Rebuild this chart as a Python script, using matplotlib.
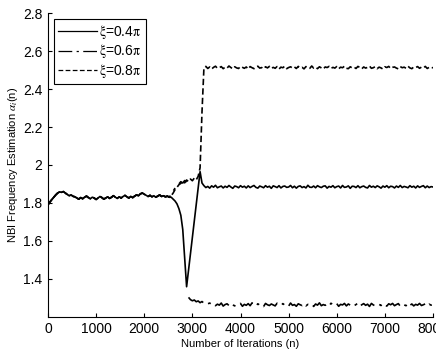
import numpy as np
import matplotlib
matplotlib.use("Agg")
import matplotlib.pyplot as plt

plt.rcParams['font.family'] = ['Liberation Sans', 'DejaVu Sans']
plt.rcParams['mathtext.fontset'] = 'stix'

# iterations are sampled every 40 steps
step = 40

# common start (n = 0 .. 2520), all three curves overlap here
shared = [1.790, 1.805, 1.818, 1.830, 1.842, 1.852, 1.858, 1.856, 1.860, 1.852,
          1.845, 1.838, 1.842, 1.835, 1.832, 1.826, 1.820, 1.828, 1.822, 1.830,
          1.836, 1.828, 1.822, 1.830, 1.826, 1.818, 1.826, 1.834, 1.828, 1.820,
          1.826, 1.832, 1.824, 1.830, 1.838, 1.830, 1.824, 1.832, 1.826, 1.834,
          1.840, 1.832, 1.826, 1.834, 1.828, 1.836, 1.842, 1.838, 1.848, 1.852,
          1.846, 1.840, 1.834, 1.840, 1.832, 1.838, 1.830, 1.836, 1.842, 1.834,
          1.838, 1.832, 1.836, 1.830]

# xi = 0.4 pi : dip then settle (n = 2560 .. 3200), plateau (3240 .. 8000)
dip_04 = [1.830, 1.820, 1.810, 1.795, 1.770, 1.735, 1.660, 1.510, 1.358,
          1.445, 1.533, 1.620, 1.708, 1.795, 1.882, 1.965, 1.905]
plateau_04 = [
    1.891, 1.881, 1.887, 1.878, 1.890, 1.883, 1.893, 1.880, 1.885, 1.889, 1.879, 1.888,
    1.882, 1.892, 1.884, 1.877, 1.889, 1.886, 1.880, 1.891, 1.883, 1.888, 1.879, 1.890,
    1.881, 1.887, 1.892, 1.882, 1.878, 1.889, 1.885, 1.880, 1.891, 1.883, 1.888, 1.877,
    1.890, 1.886, 1.881, 1.891, 1.879, 1.887, 1.889, 1.882, 1.884, 1.892, 1.880, 1.888,
    1.878, 1.887, 1.890, 1.881, 1.886, 1.879, 1.893, 1.883, 1.882, 1.889, 1.880, 1.891,
    1.885, 1.881, 1.888, 1.890, 1.878, 1.887, 1.883, 1.891, 1.880, 1.886, 1.889, 1.879,
    1.892, 1.882, 1.884, 1.890, 1.877, 1.888, 1.887, 1.881, 1.891, 1.880, 1.886, 1.889,
    1.882, 1.879, 1.892, 1.883, 1.888, 1.881, 1.890, 1.885, 1.878, 1.889, 1.883, 1.891,
    1.880, 1.888, 1.886, 1.879, 1.889, 1.882, 1.892, 1.881, 1.887, 1.884, 1.880, 1.891,
    1.883, 1.888, 1.879, 1.890, 1.882, 1.887, 1.891, 1.880, 1.889, 1.881, 1.886, 1.884]

# xi = 0.6 pi : rise (n = 2560 .. 2880), then jump down (2920 .. 8000)
rise_06 = [1.845, 1.862, 1.878, 1.892, 1.900, 1.912, 1.905, 1.918, 1.910]
plateau_06 = [
    1.302, 1.290, 1.284, 1.288, 1.279, 1.283, 1.274, 1.280, 1.271, 1.276, 1.268, 1.272,
    1.265, 1.270, 1.258, 1.266, 1.261, 1.272, 1.256, 1.264, 1.268, 1.259, 1.271, 1.262,
    1.257, 1.267, 1.263, 1.270, 1.255, 1.265, 1.260, 1.269, 1.258, 1.273, 1.262, 1.256,
    1.268, 1.261, 1.266, 1.254, 1.270, 1.263, 1.259, 1.267, 1.262, 1.257, 1.271, 1.264,
    1.258, 1.269, 1.261, 1.266, 1.256, 1.272, 1.260, 1.264, 1.255, 1.268, 1.263, 1.259,
    1.270, 1.257, 1.265, 1.262, 1.268, 1.254, 1.267, 1.261, 1.273, 1.258, 1.264, 1.260,
    1.266, 1.256, 1.271, 1.263, 1.259, 1.269, 1.255, 1.265, 1.262, 1.270, 1.257, 1.267,
    1.261, 1.268, 1.258, 1.264, 1.272, 1.256, 1.263, 1.269, 1.260, 1.266, 1.254, 1.270,
    1.262, 1.257, 1.267, 1.265, 1.259, 1.271, 1.261, 1.256, 1.268, 1.263, 1.270, 1.258,
    1.264, 1.269, 1.255, 1.266, 1.262, 1.258, 1.272, 1.260, 1.267, 1.257, 1.265, 1.261,
    1.270, 1.259, 1.263, 1.268, 1.256, 1.266, 1.261, 1.264]

# xi = 0.8 pi : rise (n = 2560 .. 3200), plateau (3240 .. 8000)
rise_08 = [1.838, 1.852, 1.870, 1.882, 1.896, 1.903, 1.914, 1.906, 1.921,
           1.912, 1.926, 1.917, 1.931, 1.922, 1.940, 1.985, 2.280]
plateau_08 = [
    2.512, 2.520, 2.509, 2.517, 2.506, 2.515, 2.521, 2.510, 2.513, 2.519, 2.508, 2.516,
    2.511, 2.522, 2.514, 2.507, 2.518, 2.512, 2.509, 2.520, 2.515, 2.510, 2.517, 2.506,
    2.519, 2.513, 2.508, 2.516, 2.521, 2.511, 2.514, 2.507, 2.518, 2.512, 2.520, 2.509,
    2.515, 2.510, 2.519, 2.506, 2.516, 2.513, 2.521, 2.508, 2.514, 2.518, 2.511, 2.517,
    2.509, 2.520, 2.512, 2.515, 2.507, 2.519, 2.513, 2.510, 2.522, 2.511, 2.516, 2.508,
    2.518, 2.512, 2.506, 2.517, 2.514, 2.520, 2.509, 2.515, 2.511, 2.519, 2.507, 2.516,
    2.513, 2.521, 2.510, 2.508, 2.518, 2.512, 2.516, 2.509, 2.520, 2.514, 2.507, 2.517,
    2.511, 2.515, 2.522, 2.510, 2.513, 2.519, 2.508, 2.516, 2.512, 2.506, 2.518, 2.514,
    2.520, 2.509, 2.515, 2.517, 2.511, 2.507, 2.519, 2.513, 2.516, 2.510, 2.521, 2.512,
    2.508, 2.517, 2.514, 2.519, 2.510, 2.516, 2.512, 2.520, 2.509, 2.515, 2.518, 2.511]

labels = [r'$\mathrm{\xi}$=0.4$\mathrm{\pi}$',
          r'$\mathrm{\xi}$=0.6$\mathrm{\pi}$',
          r'$\mathrm{\xi}$=0.8$\mathrm{\pi}$']


def build(*parts):
    # consecutive pieces; None marks a break in the drawn line
    ys, ns = [], []
    n = 0
    for p in parts:
        if p is None:
            ys.append(np.nan)
            ns.append(np.nan)
            continue
        for v in p:
            ys.append(v)
            ns.append(n)
            n += step
    return np.array(ns), np.array(ys)


n04, y04 = build(shared, dip_04, plateau_04)
n06, y06 = build(shared, rise_06, None, plateau_06)
n08, y08 = build(shared, rise_08, plateau_08)

fig = plt.figure(figsize=(4.36, 3.52), dpi=100)
ax = fig.add_axes([48 / 436, 1 - 316.7 / 352, 385 / 436, 303.4 / 352])

lw = 1.2
dashdot = (0, (11, 3.5, 1.8, 3.5))
dashed = (0, (3.8, 1.9))
ax.plot(n08, y08, color='black', lw=lw, linestyle=dashed, label=labels[2])
ax.plot(n06, y06, color='black', lw=lw, linestyle=dashdot, label=labels[1])
ax.plot(n04, y04, color='black', lw=lw, linestyle='-', label=labels[0])

ax.set_xlim(0, 8000)
ax.set_ylim(1.2, 2.8)
ax.set_xticks(np.arange(0, 8001, 1000))
ax.set_yticks([1.4, 1.6, 1.8, 2.0, 2.2, 2.4, 2.6, 2.8])
ax.yaxis.set_major_formatter(matplotlib.ticker.FormatStrFormatter('%g'))
ax.tick_params(direction='in', length=3, width=0.8, labelsize=10, pad=4)
ax.spines['top'].set_visible(False)
ax.spines['right'].set_visible(False)
for s in ('left', 'bottom'):
    ax.spines[s].set_linewidth(0.8)

ax.set_xlabel('Number of Iterations (n)', fontsize=8, labelpad=2)
ax.set_ylabel(r'NBI Frequency Estimation $\alpha_i$(n)', fontsize=8, labelpad=2)

h, l = ax.get_legend_handles_labels()
leg = ax.legend(h[::-1], l[::-1], loc='upper left', fontsize=10, frameon=True,
                fancybox=False, framealpha=1, edgecolor='black',
                handlelength=2.8, handletextpad=0.2, labelspacing=0.1,
                borderpad=0.3, borderaxespad=0.4)
leg.get_frame().set_linewidth(0.8)
for line in leg.get_lines():
    line.set_linewidth(0.9)

fig.savefig('out.png', dpi=100)
